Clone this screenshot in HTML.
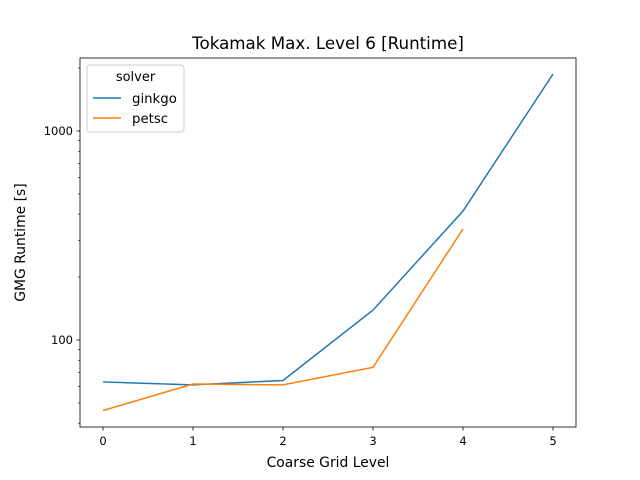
<!DOCTYPE html>
<html><head><meta charset="utf-8"><style>body{margin:0;background:#fff}svg{display:block;font-family:"DejaVu Sans","Liberation Sans",sans-serif}</style></head>
<body>
<svg id="chart" width="640" height="480" xmlns="http://www.w3.org/2000/svg">
<rect width="640" height="480" fill="#fff"/>
<g id="ticks"></g>
<g id="lines"></g>
<rect x="80" y="58" width="496" height="369" fill="none" stroke="#000" stroke-width="0.8"/>
<text x="328" y="49" text-anchor="middle" font-size="16.7">Tokamak Max. Level 6 [Runtime]</text>
<text x="328" y="467" text-anchor="middle" font-size="13.9">Coarse Grid Level</text>
<text transform="translate(25,242.5) rotate(-90)" text-anchor="middle" font-size="13.9">GMG Runtime [s]</text>
<g>
<rect x="87" y="65" width="97" height="67" rx="3" fill="#fff" fill-opacity="0.8" stroke="#ccc"/>
<text x="135.5" y="81" text-anchor="middle" font-size="13">solver</text>
<line x1="93" y1="98" x2="121" y2="98" stroke="#1f77b4" stroke-width="1.5"/>
<text x="132" y="103" font-size="13.3">ginkgo</text>
<line x1="93" y1="118" x2="121" y2="118" stroke="#ff7f0e" stroke-width="1.5"/>
<text x="132" y="123" font-size="13.3">petsc</text>
</g>
</svg>
<script>
const levels=[0,1,2,3,4,5];
const ginkgo=[63,61,64,139,414,1874];
const petsc=[46,61.6,61,74,340];
const xTicks=[0,1,2,3,4,5];
const yMajor=[100,1000];
const NS='http://www.w3.org/2000/svg';
function X(v){return 103+90*v;}
function Y(v){return 340-209*Math.log10(v/100);}
const tk=document.getElementById('ticks'),ln=document.getElementById('lines');
function mk(tag,at,par){const e=document.createElementNS(NS,tag);for(const k in at)e.setAttribute(k,at[k]);par.appendChild(e);return e;}
xTicks.forEach(t=>{
 const l=mk('line',{x1:X(t),x2:X(t),y1:427,y2:430.5,stroke:'#000','stroke-width':0.8},tk);
 
 
 const s=mk('text',{x:X(t),y:445,'text-anchor':'middle','font-size':11.5},tk);s.textContent=t;
 
 
});
yMajor.forEach(t=>{
 const l=mk('line',{x1:76.5,x2:80,y1:Y(t),y2:Y(t),stroke:'#000','stroke-width':0.8},tk);
 
 
 const s=mk('text',{x:73,y:Y(t)+4,'text-anchor':'end','font-size':11.5},tk);s.textContent=t;
 
 
});
[40,50,60,70,80,90,200,300,400,500,600,700,800,900,2000].forEach(t=>{
 const l=mk('line',{x1:78,x2:80,y1:Y(t),y2:Y(t),stroke:'#000','stroke-width':0.6},tk);
 
 
});
[[ginkgo,'#1f77b4','ginkgo-line'],[petsc,'#ff7f0e','petsc-line']].forEach(([d,c,n])=>{
 const p=mk('polyline',{points:d.map((v,i)=>X(levels[i])+','+Y(v)).join(' '),fill:'none',stroke:c,'stroke-width':1.5},ln);
 
 
});
</script>
</body></html>
